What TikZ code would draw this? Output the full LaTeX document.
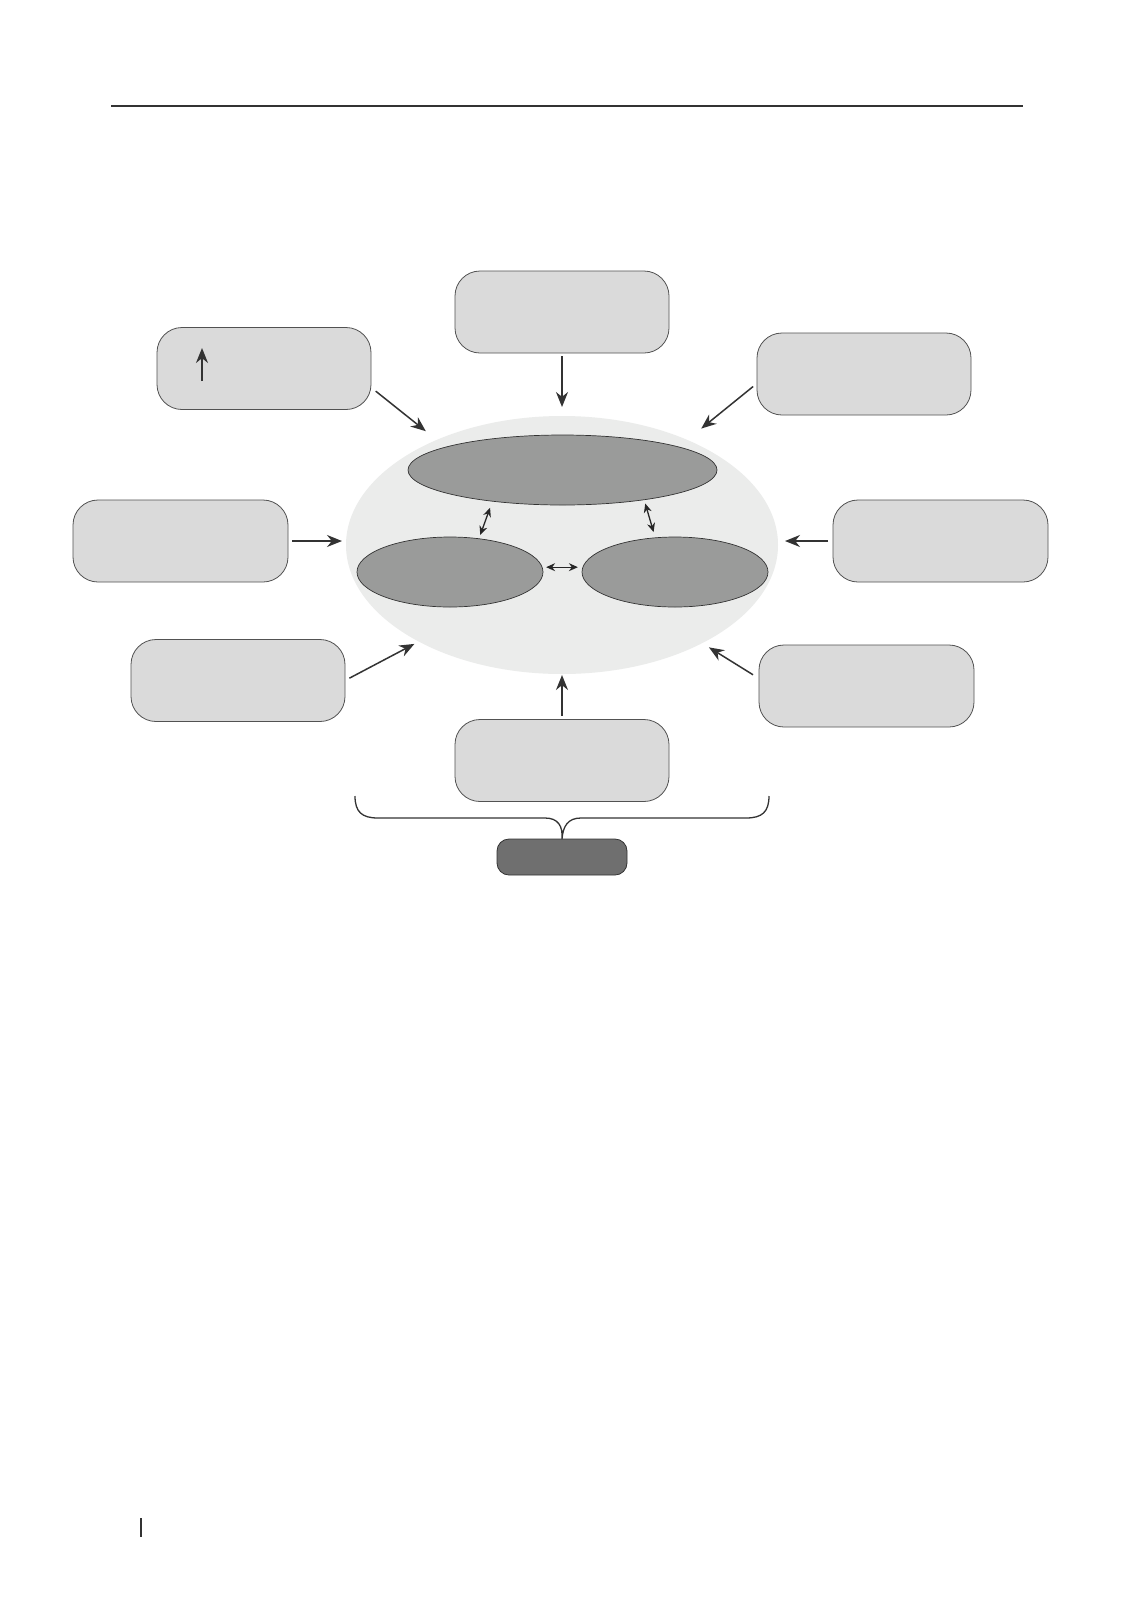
\documentclass[tikz,border=0pt]{standalone}
\usetikzlibrary{calc}
\usetikzlibrary{positioning}
\usetikzlibrary{shapes.geometric}
\usetikzlibrary{arrows.meta}
\definecolor{boxgray}{HTML}{DADADA}
\definecolor{coregray}{HTML}{EBECEB}
\definecolor{innergray}{HTML}{9A9B9A}
\definecolor{resultgray}{HTML}{6F6F6F}
\definecolor{linegray}{HTML}{333333}
\tikzstyle{factornode} = [draw=linegray!85, fill=boxgray, rounded corners=25pt, minimum width=214pt, minimum height=82pt, line width=0.8pt, inner sep=0, outer sep=0]
\tikzstyle{corenode} = [ellipse, fill=coregray, minimum width=432pt, minimum height=258pt, inner sep=0, outer sep=0]
\tikzstyle{partnode} = [ellipse, draw=linegray, fill=innergray, line width=0.7pt, minimum height=70pt, inner sep=0, outer sep=0]
\tikzstyle{resultnode} = [draw=linegray, fill=resultgray, rounded corners=12pt, minimum width=130pt, minimum height=36pt, line width=0.8pt, inner sep=0, outer sep=0]
\tikzstyle{flow} = [-{Stealth[length=15pt,width=12pt]}, line width=1.5pt, draw=linegray]
\tikzstyle{link} = [{Stealth[length=9pt,width=8pt]}-{Stealth[length=9pt,width=8pt]}, line width=1.3pt, draw=black!85]

\begin{document}
\begin{tikzpicture}[x=1pt, y=-1pt]
\fill[white] (0,0) rectangle (1146,1610);
\useasboundingbox (0,0) rectangle (1146,1610);

% page rule and margin mark
\draw[line width=1.4pt, linegray] (111,106) -- (1023,106);
\draw[line width=2pt, linegray] (141,1518) -- (141,1537);

% centre
\node[corenode] (core) at (562,545) {};
\node[partnode, minimum width=309pt] (top) at (562.5,470) {};
\node[partnode, minimum width=186pt] (lft) at (450,572) {};
\node[partnode, minimum width=186pt] (rgt) at (675,572) {};
\draw[link, shorten <=4pt, shorten >=7pt] (lft.49) -- (top.204);
\draw[link, shorten <=4pt, shorten >=6pt] (top.-20) -- (rgt.120);
\draw[link, shorten <=4pt, shorten >=5pt] (lft.3) -- (rgt.177);

% factors around
\node[factornode] (t) at (562,312) {};
\node[factornode] (tl) at (264,368.5) {};
\node[factornode] (tr) at (864,374) {};
\node[factornode, minimum width=215pt] (l) at (180.5,541) {};
\node[factornode, minimum width=215pt] (r) at (940.5,541) {};
\node[factornode] (bl) at (238,680.5) {};
\node[factornode, minimum width=215pt] (br) at (866.5,686) {};
\node[factornode] (b) at (562,760.5) {};

\draw[flow] (202,381) -- (202,348);

\draw[flow, shorten <=3pt, shorten >=9pt] (t.south) -- (core.north);
\draw[flow, shorten <=6pt, shorten >=14pt] (tl.-10) -- (core.140);
\draw[flow, shorten <=5pt, shorten >=18pt] (tr.185) -- (core.40);
\draw[flow, shorten <=4pt, shorten >=4pt] (l.east) -- (l.east -| core.west);
\draw[flow, shorten <=5pt, shorten >=7pt] (r.west) -- (r.west -| core.east);
\draw[flow, shorten <=5pt, shorten >=5pt] (bl.east) -- (core.214);
\draw[flow, shorten <=7pt, shorten >=8pt] (br.176) -- (core.325);
\draw[flow, shorten <=4pt, shorten >=1pt] (b.north) -- (core.south);

% brace and result
\node[resultnode] (res) at (562,857) {};
\draw[line width=1.3pt, linegray] (355,796) .. controls (355,812) and (362,818) .. (378,818)
  -- (545,818) .. controls (558,818) and (563,826) .. (res.north)
  (res.north) .. controls (563,826) and (568,818) .. (581,818)
  -- (746,818) .. controls (762,818) and (769,812) .. (769,796);
\end{tikzpicture}
\end{document}
